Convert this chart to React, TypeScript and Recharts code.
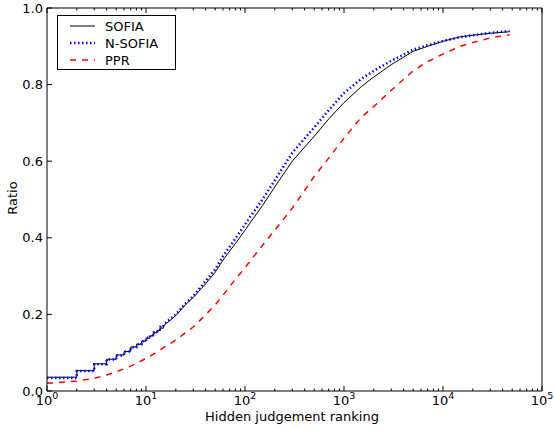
import { LineChart, Line, XAxis, YAxis, Legend } from "recharts";

// hidden judgement rank (log scale) and cumulative ratio per method
const ranks = [1, 2, 3, 4, 5, 6, 7, 8, 9, 10, 11, 12, 13, 14, 15, 20, 25, 30, 40, 50, 60, 80, 100, 150, 200, 300, 500, 700, 1000, 1500, 2000, 3000, 5000, 7000, 10000, 15000, 20000, 30000, 47000];
const sofia = [0.036, 0.053, 0.071, 0.083, 0.094, 0.103, 0.115, 0.122, 0.13, 0.138, 0.144, 0.152, 0.158, 0.164, 0.17, 0.197, 0.225, 0.244, 0.28, 0.31, 0.342, 0.385, 0.42, 0.484, 0.533, 0.6, 0.665, 0.71, 0.753, 0.795, 0.82, 0.852, 0.887, 0.9, 0.913, 0.925, 0.929, 0.934, 0.938];
const nSofia = [0.034, 0.052, 0.07, 0.082, 0.093, 0.103, 0.114, 0.122, 0.13, 0.139, 0.146, 0.153, 0.16, 0.167, 0.173, 0.2, 0.228, 0.248, 0.287, 0.318, 0.352, 0.398, 0.435, 0.5, 0.55, 0.622, 0.688, 0.733, 0.778, 0.815, 0.836, 0.862, 0.891, 0.903, 0.914, 0.924, 0.929, 0.935, 0.94];
const ppr = [0.02, 0.026, 0.033, 0.042, 0.05, 0.058, 0.065, 0.072, 0.079, 0.085, 0.091, 0.097, 0.102, 0.108, 0.113, 0.133, 0.152, 0.167, 0.199, 0.225, 0.25, 0.292, 0.322, 0.38, 0.42, 0.477, 0.56, 0.608, 0.66, 0.715, 0.743, 0.785, 0.836, 0.86, 0.88, 0.9, 0.91, 0.922, 0.93];

const xMajor = [1, 10, 100, 1000, 10000, 100000];
const xMinorSteps = [2, 3, 4, 5, 6, 7, 8, 9];
const yTicks = [0, 0.2, 0.4, 0.6, 0.8, 1.0];

const xTicks = [...xMajor];
xMajor.slice(0, -1).forEach((d) => xMinorSteps.forEach((m) => xTicks.push(d * m)));

const FONT = "DejaVu Sans";

// consecutive integer ranks are counts, so draw them as steps
const toSteps = (vals: number[]) => {
  const pts: { rank: number; ratio: number }[] = [];
  ranks.forEach((r, i) => {
    if (i > 0 && r - ranks[i - 1] === 1) pts.push({ rank: r, ratio: vals[i - 1] });
    pts.push({ rank: r, ratio: vals[i] });
  });
  return pts;
};

const sofiaData = toSteps(sofia);
const nSofiaData = toSteps(nSofia);
const pprData = ranks.map((r, i) => ({ rank: r, ratio: ppr[i] }));

const tickLen = (v: number) => (xMajor.includes(v) ? 5 : 2.5);

const BottomTick = ({ x, y, payload }: any) => {
  const v = payload.value;
  const major = xMajor.includes(v);
  return (
    <g>
      <line x1={x} x2={x} y1={y} y2={y - tickLen(v)} stroke="#000" />
      {major && (
        <text x={x} y={y + 14} textAnchor="middle" fontSize={13} fontFamily={FONT} fill="#000">
          10<tspan dy={-6} fontSize={9.5}>{Math.round(Math.log10(v))}</tspan>
        </text>
      )}
    </g>
  );
};

const TopTick = ({ x, y, payload }: any) => (
  <line x1={x} x2={x} y1={y} y2={y + tickLen(payload.value)} stroke="#000" />
);

const LeftTick = ({ x, y, payload }: any) => (
  <g>
    <line x1={x} x2={x + 5} y1={y} y2={y} stroke="#000" />
    <text x={x - 4} y={y} dy="0.36em" textAnchor="end" fontSize={13} fontFamily={FONT} fill="#000">
      {payload.value.toFixed(1)}
    </text>
  </g>
);

const RightTick = ({ x, y }: any) => <line x1={x} x2={x - 5} y1={y} y2={y} stroke="#000" />;

const legendItems = [
  { name: "SOFIA", color: "#000000", width: 1, dash: undefined },
  { name: "N-SOFIA", color: "#0000ff", width: 2.5, dash: "1.5 2.5" },
  { name: "PPR", color: "#ff0000", width: 1.5, dash: "6 6" },
];

const LegendBox = () => (
  <svg width={119} height={55} style={{ display: "block" }}>
    <rect x={0.5} y={0.5} width={118} height={54} fill="#fff" stroke="#000" />
    {legendItems.map((it, i) => (
      <g key={it.name}>
        <line x1={13} x2={38} y1={11 + i * 17} y2={11 + i * 17} stroke={it.color} strokeWidth={it.width} strokeDasharray={it.dash} />
        <text x={48} y={11 + i * 17} dy="0.36em" fontSize={13} fontFamily={FONT} fill="#000">
          {it.name}
        </text>
      </g>
    ))}
  </svg>
);

export default function App() {
  return (
    <div style={{ position: "absolute", left: 0, top: 0, width: 554, height: 430, background: "#fff" }}>
      <LineChart width={554} height={430} margin={{ top: 0, right: 0, bottom: 0, left: 0 }}>
        <XAxis
          xAxisId="bottom"
          type="number"
          dataKey="rank"
          scale="log"
          domain={[1, 100000]}
          allowDataOverflow
          ticks={xTicks}
          interval={0}
          tick={<BottomTick />}
          tickLine={false}
          tickSize={0}
          tickMargin={0}
          height={39}
          stroke="#000"
        />
        <XAxis
          xAxisId="top"
          orientation="top"
          type="number"
          dataKey="rank"
          scale="log"
          domain={[1, 100000]}
          allowDataOverflow
          ticks={xTicks}
          interval={0}
          tick={<TopTick />}
          tickLine={false}
          tickSize={0}
          tickMargin={0}
          height={8}
          stroke="#000"
        />
        <YAxis
          yAxisId="left"
          type="number"
          domain={[0, 1]}
          ticks={yTicks}
          interval={0}
          tick={<LeftTick />}
          tickLine={false}
          tickSize={0}
          tickMargin={0}
          width={47}
          stroke="#000"
        />
        <YAxis
          yAxisId="right"
          orientation="right"
          type="number"
          domain={[0, 1]}
          ticks={yTicks}
          interval={0}
          tick={<RightTick />}
          tickLine={false}
          tickSize={0}
          tickMargin={0}
          width={12}
          stroke="#000"
        />
        <Legend
          layout="horizontal"
          verticalAlign="middle"
          align="center"
          content={<LegendBox />}
          wrapperStyle={{ position: "absolute", left: 57, top: 15, width: 119, height: 55 }}
        />
        <Line
          data={sofiaData}
          xAxisId="bottom"
          yAxisId="left"
          dataKey="ratio"
          name="SOFIA"
          stroke="#000000"
          strokeWidth={1}
          dot={false}
          type="linear"
          isAnimationActive={false}
        />
        <Line
          data={nSofiaData}
          xAxisId="bottom"
          yAxisId="left"
          dataKey="ratio"
          name="N-SOFIA"
          stroke="#0000ff"
          strokeWidth={2.5}
          strokeDasharray="1.5 2.5"
          dot={false}
          type="linear"
          isAnimationActive={false}
        />
        <Line
          data={pprData}
          xAxisId="bottom"
          yAxisId="left"
          dataKey="ratio"
          name="PPR"
          stroke="#ff0000"
          strokeWidth={1.5}
          strokeDasharray="6 6"
          dot={false}
          type="linear"
          isAnimationActive={false}
        />
      </LineChart>
      <svg width={554} height={430} style={{ position: "absolute", left: 0, top: 0, pointerEvents: "none" }}>
        <text x={292} y={421} textAnchor="middle" fontSize={13} fontFamily={FONT} fill="#000">
          Hidden judgement ranking
        </text>
        <text x={17} y={198} textAnchor="middle" fontSize={13} fontFamily={FONT} fill="#000" transform="rotate(-90 17 198)">
          Ratio
        </text>
      </svg>
    </div>
  );
}
